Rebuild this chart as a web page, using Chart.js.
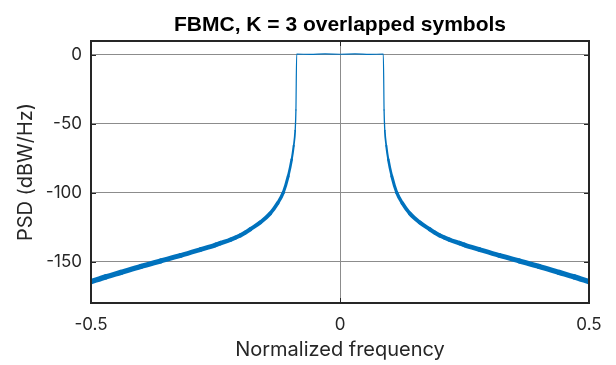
<!DOCTYPE html>
<html lang="en">
<head>
<meta charset="UTF-8">
<title>FBMC PSD</title>
<script src="https://cdn.jsdelivr.net/npm/chart.js"></script>
<style>
  html, body { margin: 0; padding: 0; background: #fff; }
</style>
</head>
<body>
<canvas id="psdChart" width="616" height="365"></canvas>
<script>
// valores (PSD em dBW/Hz vs frequencia normalizada)
const freq = [-0.5, -0.47, -0.44, -0.40, -0.36, -0.32, -0.28, -0.25, -0.24, -0.22, -0.21, -0.20,
  -0.19, -0.18, -0.16, -0.14, -0.125, -0.114, -0.104, -0.097, -0.093, -0.090, -0.0885, -0.087,
  -0.06, -0.03, 0, 0.03, 0.06,
  0.087, 0.0885, 0.090, 0.093, 0.097, 0.104, 0.114, 0.125, 0.14, 0.16, 0.18, 0.19,
  0.20, 0.21, 0.22, 0.24, 0.25, 0.28, 0.32, 0.36, 0.40, 0.44, 0.47, 0.5];
const psd = [-164.5, -161, -157.8, -153.5, -149.5, -145.5, -141.2, -137.9, -136.6, -134.1, -132.6, -130.9,
  -128.9, -126.5, -121.5, -115, -107.5, -100, -88, -76, -66, -55, -40, 0.5,
  0.3, 0.6, 0.4, 0.6, 0.3,
  0.5, -40, -55, -66, -76, -88, -100, -107.5, -115, -121.5, -126.5, -128.9,
  -130.9, -132.6, -134.1, -136.6, -137.9, -141.2, -145.5, -149.5, -153.5, -157.8, -161, -164.5];
const xTicks = [-0.5, 0, 0.5];
const yTicks = [-150, -100, -50, 0];

const titulo = 'FBMC, K = 3 overlapped symbols';
const fonteTitulo = 'Arial, "Liberation Sans", Helvetica, sans-serif';
const fonte = 'Inter, Arial, "Liberation Sans", sans-serif';
const corTexto = '#262626';

// caixa do eixo + marcas de tick para dentro (estilo MATLAB) + titulo
const caixaPlugin = {
  id: 'caixa',
  afterDatasetsDraw(chart) {
    const { ctx, chartArea: a, scales } = chart;
    ctx.save();
    ctx.strokeStyle = corTexto;
    ctx.lineWidth = 1;
    const len = 5;
    ctx.beginPath();
    xTicks.forEach(v => {
      const px = Math.round(scales.x.getPixelForValue(v)) + 0.5;
      ctx.moveTo(px, a.bottom); ctx.lineTo(px, a.bottom - len);
      ctx.moveTo(px, a.top); ctx.lineTo(px, a.top + len);
    });
    yTicks.forEach(v => {
      const py = Math.round(scales.y.getPixelForValue(v)) + 0.5;
      ctx.moveTo(a.left, py); ctx.lineTo(a.left + len, py);
      ctx.moveTo(a.right, py); ctx.lineTo(a.right - len, py);
    });
    ctx.stroke();
    ctx.lineWidth = 2;
    ctx.strokeRect(a.left, a.top, a.right - a.left, a.bottom - a.top);
    ctx.restore();
  },
  afterDraw(chart) {
    const { ctx, chartArea: a } = chart;
    ctx.save();
    ctx.fillStyle = '#000';
    ctx.font = 'bold 21px ' + fonteTitulo;
    ctx.textAlign = 'center';
    ctx.textBaseline = 'alphabetic';
    ctx.fillText(titulo, (a.left + a.right) / 2, 31);
    ctx.restore();
  }
};

const pontos = freq.map((f, i) => ({ x: f, y: psd[i] }));

const ctx = document.getElementById('psdChart');
const chart = new Chart(ctx, {
  type: 'line',
  data: {
    datasets: [{
      data: pontos,
      borderColor: '#0072BD',
      borderWidth: 1,
      borderCapStyle: 'round',
      borderJoinStyle: 'round',
      pointRadius: 0,
      cubicInterpolationMode: 'monotone',
      segment: {
        // o ruido engrossa a curva nas caudas
        borderWidth: c => {
          const y = Math.min(c.p0.parsed.y, c.p1.parsed.y);
          if (y > -45) return 1.2;
          return 1.5 + (-60 - y) / 105 * 4;
        }
      }
    }]
  },
  options: {
    responsive: false,
    animation: false,
    devicePixelRatio: 1,
    layout: { padding: { top: 41, right: 27, left: 0, bottom: 0 } },
    plugins: {
      legend: { display: false },
      tooltip: { enabled: false }
    },
    scales: {
      x: {
        type: 'linear',
        min: -0.5,
        max: 0.5,
        afterBuildTicks: s => { s.ticks = xTicks.map(v => ({ value: v })); },
        afterFit: s => { s.height = 62; },
        grid: { color: '#8c8c8c', lineWidth: 1, drawTicks: false },
        border: { display: false },
        ticks: {
          color: corTexto,
          padding: 12,
          maxRotation: 0,
          font: { family: fonte, size: 17 },
          callback: v => String(v)
        },
        title: {
          display: true,
          text: 'Normalized frequency',
          color: corTexto,
          font: { family: fonte, size: 20 },
          padding: { top: 0, bottom: 3 }
        }
      },
      y: {
        type: 'linear',
        min: -180,
        max: 10,
        afterBuildTicks: s => { s.ticks = yTicks.map(v => ({ value: v })); },
        afterFit: s => { s.width = 91; },
        grid: { color: '#8c8c8c', lineWidth: 1, drawTicks: false },
        border: { display: false },
        ticks: {
          color: corTexto,
          padding: 9,
          font: { family: fonte, size: 17 },
          callback: v => String(v)
        },
        title: {
          display: true,
          text: 'PSD (dBW/Hz)',
          color: corTexto,
          font: { family: fonte, size: 20 },
          padding: { top: 14, bottom: 0 }
        }
      }
    }
  },
  plugins: [caixaPlugin]
});
</script>
</body>
</html>
